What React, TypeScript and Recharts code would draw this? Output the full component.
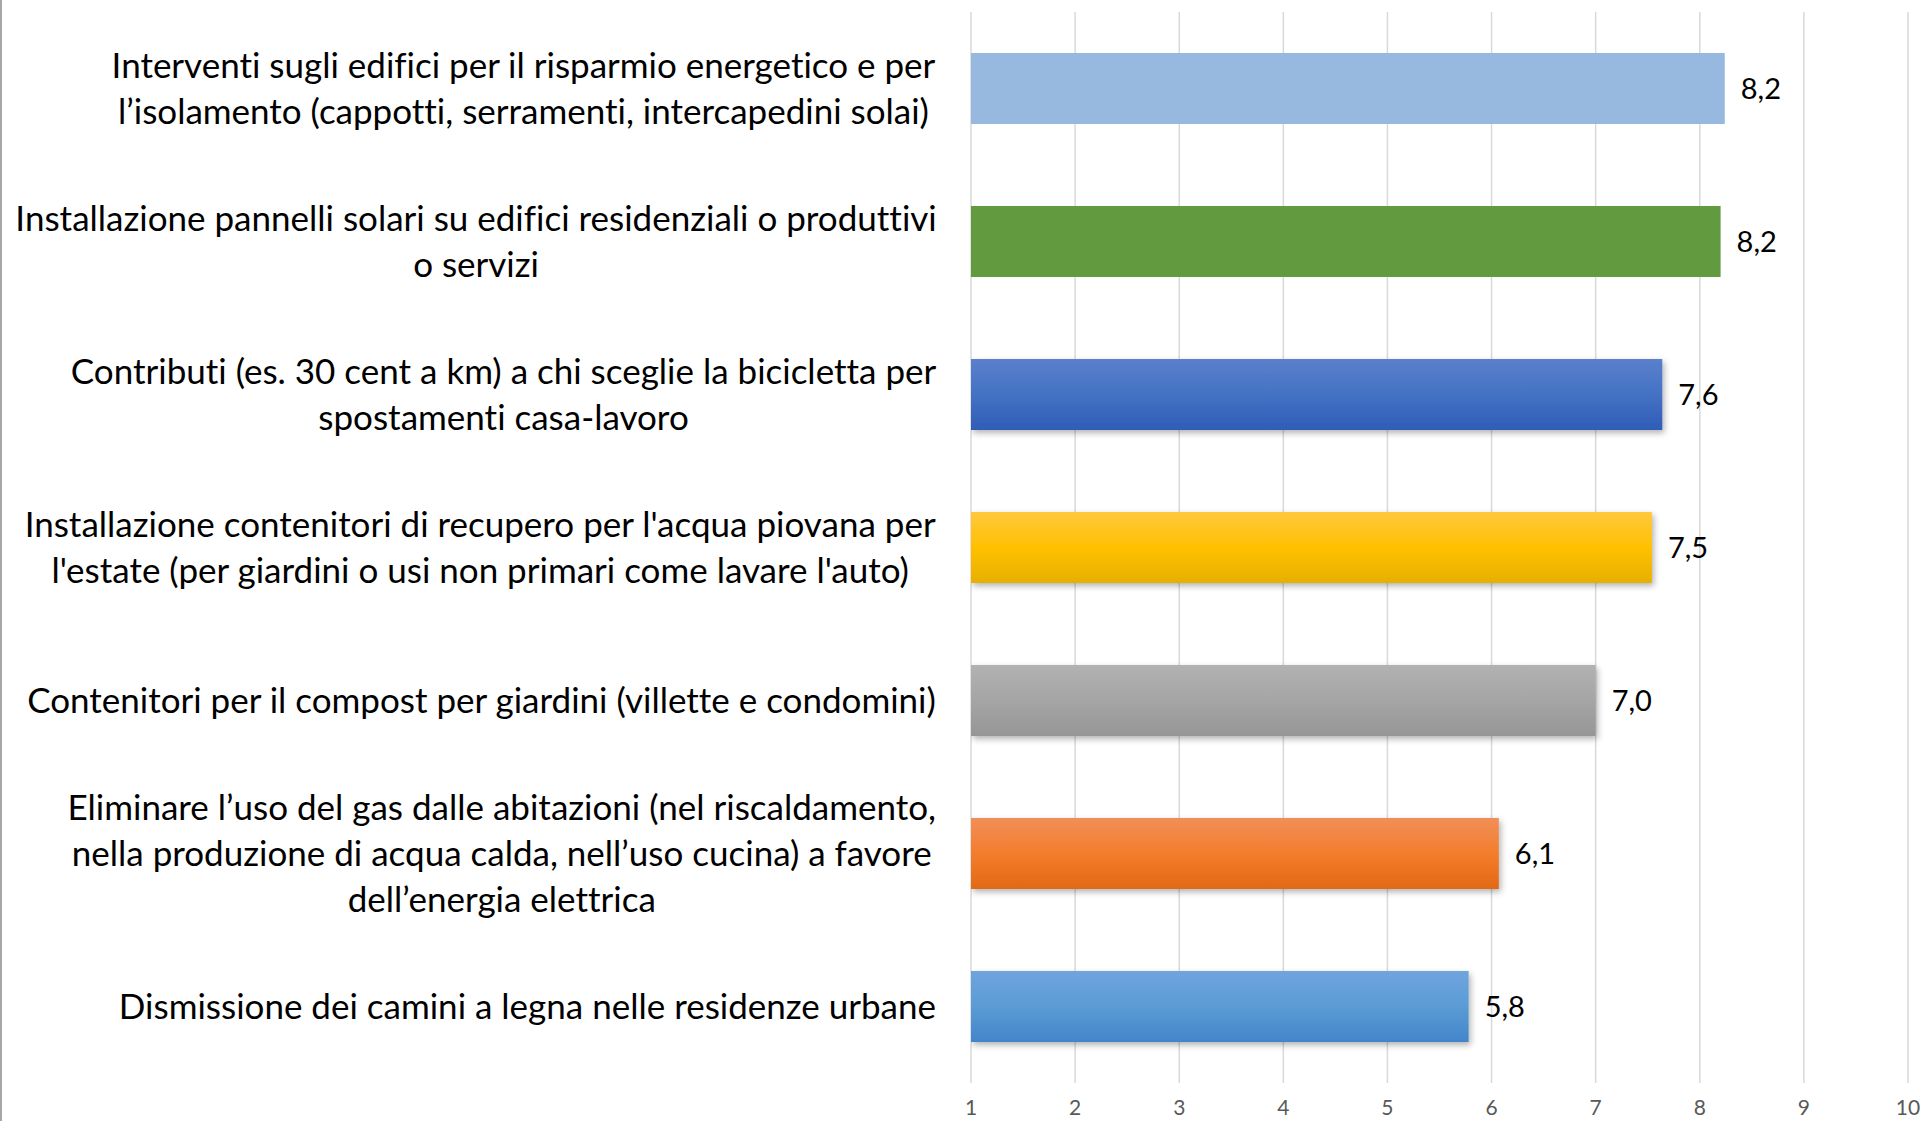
import React from 'react';
import { BarChart, Bar, XAxis, YAxis, CartesianGrid, Cell, LabelList } from 'recharts';

const categories = [
  'Interventi sugli edifici per il risparmio energetico e per\nl’isolamento (cappotti, serramenti, intercapedini solai)',
  'Installazione pannelli solari su edifici residenziali o produttivi\no servizi',
  'Contributi (es. 30 cent a km) a chi sceglie la bicicletta per\nspostamenti casa-lavoro',
  "Installazione contenitori di recupero per l'acqua piovana per\nl'estate (per giardini o usi non primari come lavare l'auto)",
  'Contenitori per il compost per giardini (villette e condomini)',
  'Eliminare l’uso del gas dalle abitazioni (nel riscaldamento,\nnella produzione di acqua calda, nell’uso cucina) a favore\ndell’energia elettrica',
  'Dismissione dei camini a legna nelle residenze urbane',
];

const scores = [8.24, 8.2, 7.64, 7.54, 7.0, 6.07, 5.78];

const xTicks = [1, 2, 3, 4, 5, 6, 7, 8, 9, 10];

const data = categories.map((name, i) => ({ name, value: scores[i] }));

const barFills = [
  '#97B8DF',
  '#629B3F',
  'url(#gBlue)',
  'url(#gYellow)',
  'url(#gGray)',
  'url(#gOrange)',
  'url(#gSky)',
];

const FONT = 'Lato, "Open Sans", sans-serif';
const LABEL_SIZE = 35;
const LINE_H = 46;

let ctx: CanvasRenderingContext2D | null = null;
const measure = (s: string) => {
  if (!ctx) ctx = document.createElement('canvas').getContext('2d');
  if (!ctx) return s.length * LABEL_SIZE * 0.45;
  ctx.font = `${LABEL_SIZE}px ${FONT}`;
  return ctx.measureText(s).width;
};

const CategoryTick = (props: any) => {
  const { x, y, payload } = props;
  const lines: string[] = String(payload.value).split('\n');
  const blockW = Math.max(...lines.map(measure));
  const right = x - 27;
  const cx = right - blockW / 2;
  return (
    <g>
      {lines.map((ln, i) => (
        <text
          key={i}
          x={cx}
          y={y + (i - (lines.length - 1) / 2) * LINE_H}
          dy="0.36em"
          textAnchor="middle"
          fill="#000"
          fontSize={LABEL_SIZE}
          fontFamily={FONT}
          style={{ fontVariantLigatures: 'none' }}
        >
          {ln}
        </text>
      ))}
    </g>
  );
};

const NumTick = (props: any) => {
  const { x, y, payload } = props;
  return (
    <text x={x} y={y + 24} textAnchor="middle" fill="#595959" fontSize={21} fontFamily={FONT}>
      {payload.value}
    </text>
  );
};

const grad = (id: string, stops: string[]) => (
  <linearGradient id={id} x1="0" y1="0" x2="0" y2="1">
    {stops.map((c, i) => (
      <stop key={i} offset={`${(i / (stops.length - 1)) * 100}%`} stopColor={c} />
    ))}
  </linearGradient>
);

export default function App() {
  return (
    <div style={{ position: 'absolute', left: 0, top: 0, width: 1926, height: 1121, background: '#fff' }}>
      <div style={{ position: 'absolute', left: 0, top: 0, width: 2, height: 1121, background: '#A6A6A6' }} />
      <BarChart
        width={1926}
        height={1121}
        layout="vertical"
        data={data}
        margin={{ top: 12, right: 18, bottom: 0, left: 0 }}
        barSize={71}
      >
        <defs>
          {grad('gBlue', ['#5B80CC', '#4472C4', '#2F5DB7'])}
          {grad('gYellow', ['#FFC83D', '#FFC000', '#E6B000'])}
          {grad('gGray', ['#B2B2B2', '#A5A5A5', '#969696'])}
          {grad('gOrange', ['#F18F58', '#F37D2D', '#E26915'])}
          {grad('gSky', ['#6FA5DD', '#5B9BD5', '#4285CA'])}
          <filter id="shadow" x="-5%" y="-20%" width="110%" height="150%">
            <feDropShadow dx="2" dy="3" stdDeviation="3" floodColor="#000" floodOpacity="0.3" />
          </filter>
        </defs>
        <CartesianGrid horizontal={false} stroke="#D9D9D9" strokeWidth={1.5} />
        <XAxis
          type="number"
          domain={[1, 10]}
          ticks={xTicks}
          allowDataOverflow
          axisLine={false}
          tickLine={false}
          height={38}
          tick={<NumTick />}
          interval={0}
        />
        <YAxis
          type="category"
          dataKey="name"
          width={971}
          axisLine={false}
          tickLine={false}
          tick={<CategoryTick />}
          interval={0}
        />
        <Bar dataKey="value" isAnimationActive={false}>
          {data.map((d, i) => (
            <Cell key={d.name} fill={barFills[i]} filter={i > 1 ? 'url(#shadow)' : undefined} />
          ))}
          <LabelList
            dataKey="value"
            position="right"
            offset={16}
            fill="#000"
            fontSize={29}
            fontFamily={FONT}
            formatter={(v: any) => Number(v).toFixed(1).replace('.', ',')}
          />
        </Bar>
      </BarChart>
    </div>
  );
}
